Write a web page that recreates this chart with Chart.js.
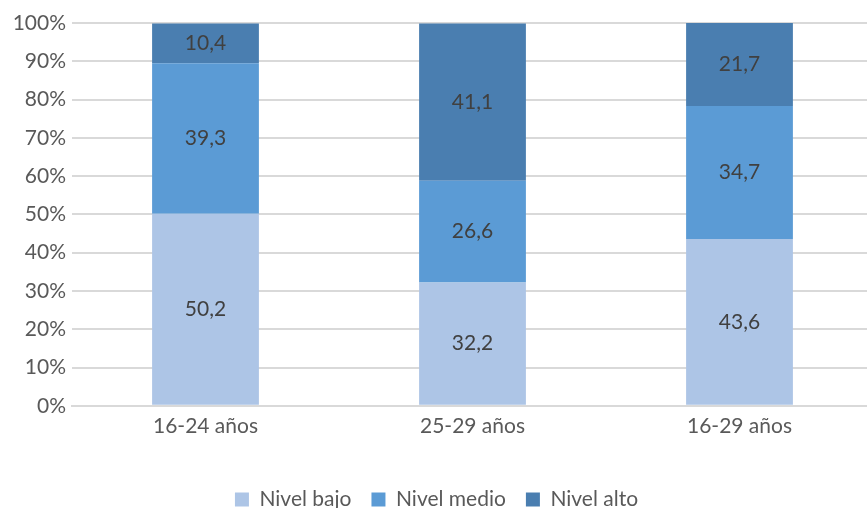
<!DOCTYPE html>
<html><head><meta charset="utf-8">
<script src="https://cdn.jsdelivr.net/npm/chart.js@4"></script>
<style>html,body{margin:0;padding:0;background:#fff}#wrap{width:867px;height:508px;overflow:hidden}</style>
</head><body><div id="wrap"><canvas id="c" width="873" height="508"></canvas></div>
<script>
const categories = ["16-24 años", "25-29 años", "16-29 años"];
const nivelBajo = [50.2, 32.2, 43.6];
const nivelMedio = [39.3, 26.6, 34.7];
const nivelAlto = [10.4, 41.1, 21.7];
const seriesNames = ["Nivel bajo", "Nivel medio", "Nivel alto"];
const yTicks = [0,10,20,30,40,50,60,70,80,90,100];

const FONT = "Lato, 'Open Sans', sans-serif";
const labelPlugin = {
  id: 'vals',
  afterDatasetsDraw(chart) {
    const ctx = chart.ctx;
    ctx.save();
    ctx.font = "21px " + FONT;
    ctx.fillStyle = "#404040";
    ctx.textAlign = "center";
    ctx.textBaseline = "middle";
    chart.data.datasets.forEach((ds, i) => {
      chart.getDatasetMeta(i).data.forEach((bar, j) => {
        const y = (bar.y + bar.base) / 2;
        ctx.fillText(ds.data[j].toFixed(1).replace('.', ','), bar.x, y);
      });
    });
    ctx.restore();
  }
};
new Chart(document.getElementById('c'), {
  type: 'bar',
  data: {
    labels: categories,
    datasets: [
      {label: seriesNames[0], data: nivelBajo, backgroundColor: '#ADC5E6'},
      {label: seriesNames[1], data: nivelMedio, backgroundColor: '#5B9BD5'},
      {label: seriesNames[2], data: nivelAlto, backgroundColor: '#4A7EB0'}
    ]
  },
  options: {
    responsive: false, animation: false,
    layout: {padding: {top: 23, right: 0, left: 0, bottom: -12}},
    datasets: {bar: {categoryPercentage: 1, barPercentage: 0.4}},
    plugins: {
      legend: {position: 'bottom', labels: {font: {family: FONT, size: 21}, color: '#595959', boxWidth: 14, boxHeight: 14, padding: 20}},
      tooltip: {enabled: false}
    },
    scales: {
      x: {stacked: true, grid: {display: false}, border: {color: '#d9d9d9', width: 2},
          afterFit(s){ s.height += 30; },
          ticks: {font: {family: FONT, size: 21}, color: '#595959', padding: 0}},
      y: {stacked: true, min: 0, max: 100, afterFit(s){ s.width = 72; },
          afterBuildTicks(s){ s.ticks = yTicks.map(v => ({value: v})); },
          grid: {color: '#d9d9d9', lineWidth: 2, drawTicks: false}, border: {display: false},
          ticks: {font: {family: FONT, size: 21}, color: '#595959', padding: 6, callback: v => v + '%'}}
    }
  },
  plugins: [labelPlugin]
});
</script></body></html>
